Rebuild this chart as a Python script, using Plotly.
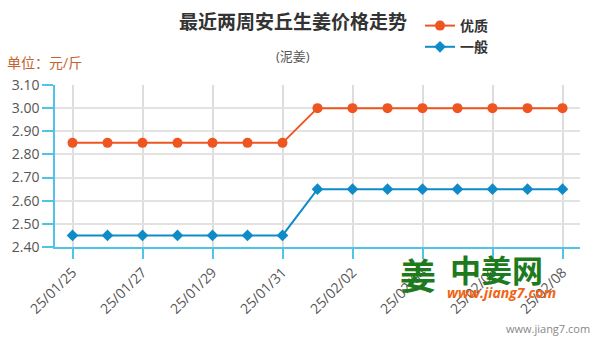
import plotly.graph_objects as go

# Daily prices, 25/01/25 .. 25/02/08
dates = ["25/01/25", "25/01/26", "25/01/27", "25/01/28", "25/01/29", "25/01/30",
         "25/01/31", "25/02/01", "25/02/02", "25/02/03", "25/02/04", "25/02/05",
         "25/02/06", "25/02/07", "25/02/08"]
premium = [2.85, 2.85, 2.85, 2.85, 2.85, 2.85, 2.85,
           3.00, 3.00, 3.00, 3.00, 3.00, 3.00, 3.00, 3.00]
regular = [2.45, 2.45, 2.45, 2.45, 2.45, 2.45, 2.45,
           2.65, 2.65, 2.65, 2.65, 2.65, 2.65, 2.65, 2.65]
label_dates = dates[::2]

ORANGE = "#ee5521"
BLUE = "#0f8cc8"
AXIS = "#4fc3ea"
FONT = "Open Sans, Noto Sans CJK SC, sans-serif"

L, R, T, B = 55, 20, 85, 94
W, H = 600, 341
pw, ph = W - L - R, H - T - B


def px(x):
    return (x - L) / pw


def py(y):
    return (H - B - y) / ph


fig = go.Figure()
fig.add_trace(go.Scatter(
    x=dates, y=premium, name="<b>优质</b>", mode="lines+markers",
    line=dict(color=ORANGE, width=2),
    marker=dict(symbol="circle", size=10, color=ORANGE),
))
fig.add_trace(go.Scatter(
    x=dates, y=regular, name="<b>一般</b>", mode="lines+markers",
    line=dict(color=BLUE, width=2),
    marker=dict(symbol="diamond", size=9, color=BLUE),
))

annotations = [
    dict(text="<b>最近两周安丘生姜价格走势</b>", x=px(293), y=py(22),
         font=dict(size=19, color="#333333", family=FONT)),
    dict(text="(泥姜)", x=px(293), y=py(56),
         font=dict(size=13, color="#555555", family=FONT)),
    dict(text="单位：元/斤", x=px(5), y=py(62), xanchor="left",
         font=dict(size=14, color="#c4622d", family=FONT)),
    # site watermark
    dict(text="<b>姜</b>", x=px(418), y=py(276),
         font=dict(size=36, color="#1d7a1d", family=FONT)),
    dict(text="<b>中姜网</b>", x=px(496), y=py(270),
         font=dict(size=31, color="#1d7a1d", family=FONT)),
    dict(text="<b><i>www.jiang7.com</i></b>", x=px(501), y=py(292),
         font=dict(size=14, color="#f06414", family=FONT)),
    dict(text="www.jiang7.com", x=px(548), y=py(328),
         font=dict(size=11, color="#888888", family=FONT)),
]
for a in annotations:
    a.update(xref="paper", yref="paper", showarrow=False, yanchor="middle")
    a.setdefault("xanchor", "center")

fig.update_layout(
    width=W, height=H,
    margin=dict(l=L, r=R, t=T, b=B, autoexpand=False),
    paper_bgcolor="white", plot_bgcolor="white",
    font=dict(family=FONT, color="#555555"),
    showlegend=True,
    legend=dict(
        x=px(420), y=py(10),
        xanchor="left", yanchor="top",
        font=dict(size=14, color="#333333", family=FONT),
        itemwidth=30, tracegroupgap=2, bgcolor="rgba(0,0,0,0)",
    ),
    annotations=annotations,
    xaxis=dict(
        type="category", range=[-0.5, len(dates) - 0.5],
        tickmode="array", tickvals=label_dates, ticktext=label_dates,
        tickangle=-45, tickfont=dict(size=14, color="#555555"),
        ticks="outside", ticklen=10, tickcolor=AXIS, tickwidth=1.5,
        showline=True, linecolor=AXIS, linewidth=1.5,
        showgrid=True, gridcolor="#dddddd", gridwidth=1.5,
        zeroline=False, automargin=False,
    ),
    yaxis=dict(
        range=[2.40, 3.10], dtick=0.1, tick0=2.40, tickformat=".2f",
        tickfont=dict(size=14, color="#555555"),
        ticks="outside", ticklen=11, tickcolor=AXIS, tickwidth=1.5,
        showline=True, linecolor=AXIS, linewidth=1.5,
        showgrid=True, gridcolor="#e2e2e2", gridwidth=1.5,
        zeroline=False, automargin=False,
    ),
)

fig.write_html("out.html")
